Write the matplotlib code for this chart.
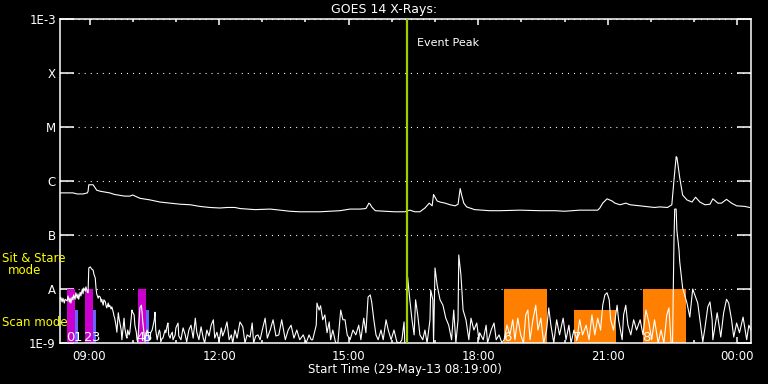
import matplotlib
matplotlib.use("Agg")
import matplotlib.pyplot as plt
import numpy as np

# GOES 14 X-ray flux; time = minutes after 29-May-13 08:19:00, flux = log10(W/m^2)
long_min = [0, 18, 24, 32, 38, 39, 40, 46, 49, 51, 56, 69, 76, 90, 97, 101, 106, 111,
            125, 139, 153, 167, 181, 194, 208, 222, 233, 243, 250, 271, 292, 306, 319,
            333, 347, 361, 375, 389, 403, 417, 425, 428, 429, 431, 433, 438, 451, 465,
            479, 486, 493, 500, 507, 513, 517, 519, 524, 528, 535, 542, 549, 553, 556,
            558, 561, 565, 576, 597, 611, 639, 667, 688, 701, 722, 747, 750, 754, 760,
            767, 771, 778, 786, 792, 806, 819, 826, 833, 844, 850, 853, 856, 857, 858,
            861, 865, 871, 878, 883, 889, 896, 903, 907, 914, 919, 926, 933, 940, 951, 958]
long_log = [-6.22, -6.22, -6.24, -6.24, -6.22, -6.19, -6.07, -6.07, -6.13, -6.17, -6.19,
            -6.22, -6.25, -6.28, -6.28, -6.26, -6.29, -6.32, -6.35, -6.39, -6.41, -6.43,
            -6.44, -6.47, -6.49, -6.50, -6.49, -6.49, -6.51, -6.53, -6.52, -6.54, -6.56,
            -6.57, -6.57, -6.57, -6.56, -6.55, -6.52, -6.52, -6.51, -6.44, -6.41, -6.43,
            -6.48, -6.55, -6.56, -6.57, -6.57, -6.54, -6.57, -6.57, -6.50, -6.41, -6.46,
            -6.25, -6.37, -6.39, -6.41, -6.44, -6.46, -6.43, -6.14, -6.26, -6.41, -6.48,
            -6.53, -6.55, -6.55, -6.54, -6.55, -6.55, -6.56, -6.54, -6.54, -6.50, -6.41,
            -6.33, -6.37, -6.41, -6.44, -6.41, -6.44, -6.46, -6.48, -6.49, -6.48, -6.49,
            -6.44, -5.98, -5.55, -5.56, -5.65, -5.94, -6.26, -6.35, -6.39, -6.30, -6.39,
            -6.44, -6.43, -6.33, -6.41, -6.41, -6.34, -6.41, -6.46, -6.47, -6.49]

short_min = [0, 1, 3, 4, 6, 7, 10, 11, 13, 14, 15, 17, 18, 19, 21, 22, 24, 25, 26, 28,
             29, 31, 32, 33, 35, 36, 38, 39, 40, 42, 43, 44, 46, 47, 49, 50, 51, 53, 54,
             56, 57, 58, 60, 61, 63, 64, 65, 67, 68, 69, 71, 72, 74, 75, 76, 78, 79, 81,
             82, 83, 85, 86, 88, 89, 90, 92, 93, 94, 96, 97, 99, 100, 101, 103, 104, 106,
             107, 108, 110, 111, 113, 114, 115, 117, 118, 119, 121, 122, 124, 125, 126,
             128, 129, 131, 132, 133, 135, 136, 138, 139, 140, 142, 143, 146, 147, 149,
             150, 151, 153, 154, 156, 157, 160, 161, 164, 165, 168, 171, 174, 176, 179,
             182, 185, 188, 190, 193, 196, 199, 201, 204, 207, 210, 213, 215, 218, 221,
             224, 226, 229, 232, 235, 238, 240, 243, 246, 250, 254, 257, 260, 264, 267,
             269, 272, 275, 278, 281, 285, 288, 292, 296, 300, 304, 308, 313, 317, 321,
             325, 329, 333, 338, 342, 346, 349, 351, 356, 357, 360, 362, 365, 368, 371,
             374, 376, 379, 383, 386, 390, 393, 396, 399, 403, 407, 411, 415, 418, 422,
             425, 428, 431, 433, 436, 439, 442, 446, 449, 453, 456, 460, 464, 468, 472,
             475, 478, 479, 482, 483, 486, 489, 492, 494, 497, 500, 504, 507, 510, 514,
             515, 518, 519, 521, 524, 528, 532, 536, 540, 544, 547, 550, 553, 554, 557,
             560, 564, 568, 571, 575, 579, 582, 583, 588, 592, 594, 599, 603, 606, 610,
             614, 617, 621, 625, 629, 632, 636, 640, 644, 647, 650, 653, 657, 661, 664,
             668, 672, 676, 679, 682, 686, 690, 694, 699, 703, 707, 710, 714, 718, 722,
             726, 731, 735, 739, 743, 747, 751, 754, 757, 760, 763, 765, 769, 774, 776,
             781, 783, 786, 789, 793, 797, 801, 806, 810, 814, 818, 822, 826, 831, 835,
             839, 843, 846, 849, 851, 853, 854, 856, 857, 860, 861, 865, 871, 875, 879,
             883, 886, 889, 893, 896, 900, 903, 906, 907, 913, 918, 922, 926, 929, 933,
             936, 940, 944, 949, 954, 957, 960]
short_log = [-8.20, -8.15, -8.24, -8.17, -8.26, -8.19, -8.22, -8.13, -8.24, -8.17, -8.26,
             -8.15, -8.20, -8.11, -8.19, -8.07, -8.17, -8.09, -8.19, -8.06, -8.13, -8.00,
             -8.09, -7.98, -8.04, -7.96, -8.06, -8.07, -7.61, -7.59, -7.61, -7.63, -7.65,
             -7.72, -7.80, -7.98, -8.09, -8.17, -8.13, -8.15, -8.24, -8.19, -8.30, -8.20,
             -8.24, -8.31, -8.35, -8.26, -8.33, -8.30, -8.37, -8.33, -8.43, -8.50, -8.54,
             -8.69, -8.80, -8.44, -8.54, -8.61, -8.76, -8.94, -8.67, -8.54, -8.72, -8.87,
             -8.91, -8.76, -8.85, -8.80, -8.54, -8.39, -8.43, -8.48, -8.67, -8.80, -8.94,
             -8.98, -8.57, -8.35, -8.30, -8.43, -8.61, -8.85, -8.98, -8.87, -8.76, -8.80,
             -8.94, -8.91, -8.81, -8.76, -8.70, -8.57, -8.43, -8.76, -8.94, -8.87, -8.76,
             -8.80, -8.98, -8.91, -8.91, -8.76, -8.81, -8.67, -8.63, -8.85, -8.91, -8.85,
             -8.80, -8.94, -8.85, -8.72, -8.63, -8.87, -8.94, -8.72, -8.85, -8.98, -8.76,
             -8.67, -8.91, -8.54, -8.80, -8.94, -8.70, -8.91, -9.00, -8.76, -8.87, -8.67,
             -8.57, -8.91, -8.80, -8.98, -8.72, -8.87, -8.76, -8.61, -8.94, -8.85, -9.00,
             -8.76, -8.91, -8.61, -8.70, -9.00, -8.85, -8.89, -8.63, -9.00, -8.87, -8.85,
             -8.94, -8.76, -8.54, -8.91, -8.76, -8.57, -8.87, -8.85, -8.57, -8.94, -8.76,
             -8.67, -8.91, -8.76, -8.94, -8.85, -9.00, -8.85, -8.94, -8.94, -8.67, -8.26,
             -8.39, -8.31, -8.57, -8.48, -8.81, -8.61, -8.94, -8.76, -9.00, -9.00, -8.39,
             -8.57, -8.57, -8.85, -8.94, -8.76, -8.85, -8.67, -8.94, -8.54, -8.81, -8.15,
             -8.11, -8.24, -8.57, -8.85, -8.94, -8.76, -8.94, -8.57, -8.76, -8.94, -8.76,
             -8.98, -9.00, -8.94, -8.61, -9.00, -9.00, -7.78, -8.20, -8.57, -8.85, -8.20,
             -8.48, -8.85, -8.94, -8.76, -9.00, -8.57, -8.02, -8.20, -9.00, -7.61, -7.93,
             -8.20, -8.30, -8.54, -8.67, -8.94, -8.39, -9.00, -8.57, -7.37, -7.74, -8.39,
             -8.57, -8.94, -8.54, -8.76, -8.63, -8.94, -8.81, -8.94, -8.67, -9.00, -8.76,
             -8.63, -8.94, -8.85, -9.00, -8.94, -8.67, -8.85, -8.57, -8.94, -8.54, -8.85,
             -9.00, -8.48, -8.39, -8.94, -8.57, -8.30, -8.76, -8.54, -9.00, -8.76, -8.35,
             -8.67, -9.00, -8.57, -8.85, -8.54, -8.94, -8.67, -9.00, -8.76, -8.94, -8.57,
             -8.85, -8.67, -8.94, -8.48, -8.85, -8.54, -8.76, -8.30, -8.11, -8.07, -8.20,
             -8.57, -8.76, -8.30, -8.57, -8.94, -8.48, -8.30, -8.67, -8.85, -8.57, -8.76,
             -8.57, -8.85, -8.39, -8.61, -8.94, -8.57, -9.00, -8.76, -9.00, -8.48, -8.35,
             -9.00, -9.00, -7.09, -6.52, -6.52, -6.91, -7.28, -7.50, -7.98, -8.26, -8.52,
             -8.00, -8.15, -8.26, -8.57, -8.98, -8.72, -8.33, -8.24, -8.57, -8.94, -8.44,
             -8.89, -8.44, -8.19, -8.26, -8.57, -8.89, -8.63, -8.81, -8.52, -8.94, -8.67,
             -8.76]

# observing windows (minutes after start)
obs_start = [10, 21, 35, 46, 108, 119, 617, 714, 810]
obs_end = [21, 25, 46, 50, 119, 123, 676, 773, 870]
obs_mode = ['stare', 'scan', 'stare', 'scan', 'stare', 'scan', 'stare', 'scan', 'stare']
obs_group = ['a', 'b', 'a', 'b', 'a', 'b', 'c', 'c', 'c']
obs_label = ['0', '1', '2', '3', '4', '5', '6', '7', '8']

event_peak = 482

level_vals = [1e-9, 1e-8, 1e-7, 1e-6, 1e-5, 1e-4, 1e-3]
level_names = ['1E-9', 'A', 'B', 'C', 'M', 'X', '1E-3']
hour_ticks = [41, 101, 161, 221, 281, 341, 401, 461, 521, 581, 641, 701, 761, 821, 881, 941]
time_ticks = [41, 221, 401, 581, 761, 941]
time_labels = ['09:00', '12:00', '15:00', '18:00', '21:00', '00:00']

mode_top = {'stare': 1e-8, 'scan': 4.1e-9}
group_color = {'a': '#cc00cc', 'b': '#6666ff', 'c': '#ff8000'}

plt.rcParams['lines.scale_dashes'] = False
fig = plt.figure(figsize=(7.68, 3.84), dpi=100, facecolor='black')
ax = fig.add_axes([60 / 768, 41 / 384, 691 / 768, 324 / 384])
ax.set_facecolor('black')
ax.set_yscale('log')
ax.set_xlim(0, 960)
ax.set_ylim(1e-9, 1e-3)

for i in range(len(obs_start)):
    top = mode_top[obs_mode[i]]
    ax.bar(obs_start[i], top - 1e-9, bottom=1e-9, width=obs_end[i] - obs_start[i],
           align='edge', color=group_color[obs_group[i]], linewidth=0, zorder=1)

ax.plot(long_min, 10.0 ** np.array(long_log), color='white', lw=0.8, zorder=3)
ax.plot(short_min, 10.0 ** np.array(short_log), color='white', lw=0.8, zorder=3)

for i in range(len(obs_start)):
    ax.text(obs_start[i] + 4, 10 ** -8.97, obs_label[i], color='white', fontsize=9.5,
            ha='center', va='baseline', zorder=4)

ax.axvline(event_peak, color='#9fd000', lw=1.6, zorder=5)
ax.text(event_peak + 14, 0.926, 'Event Peak', color='white', fontsize=8,
        va='center', ha='left', transform=ax.get_xaxis_transform())

ax.set_axisbelow(True)
ax.grid(axis='y', which='major', color='white', lw=0.8, linestyle=(0, (0.75, 3.6)))
ax.set_yticks(level_vals)
ax.set_yticklabels(level_names)
ax.minorticks_off()
ax.set_xticks(time_ticks)
ax.set_xticklabels(time_labels)
ax.set_xticks(hour_ticks, minor=True)

ax.tick_params(axis='y', which='major', direction='in', length=10, width=1.1,
               left=True, right=True, colors='white', labelsize=8.5, pad=3)
ax.tick_params(axis='x', which='major', direction='in', length=4.5, width=1.1,
               top=True, bottom=True, colors='white', labelsize=8.5, pad=5)
ax.tick_params(axis='x', which='minor', direction='in', length=2.3, width=1.1,
               top=True, bottom=True, colors='white')
for s in ax.spines.values():
    s.set_color('white')
    s.set_linewidth(1.1)

fig.text(384 / 768, 1 - 9 / 384, 'GOES 14 X-Rays:', color='white', fontsize=9,
         ha='center', va='center')
fig.text(405 / 768, 1 - 369 / 384, 'Start Time (29-May-13 08:19:00)', color='white',
         fontsize=8.5, ha='center', va='center')
fig.text(2 / 768, 1 - 259 / 384, 'Sit & Stare', color='yellow', fontsize=8.5,
         ha='left', va='center')
fig.text(24.5 / 768, 1 - 271 / 384, 'mode', color='yellow', fontsize=8.5,
         ha='center', va='center')
fig.text(2 / 768, 1 - 323 / 384, 'Scan mode', color='yellow', fontsize=8.5,
         ha='left', va='center')

fig.savefig('out.png', dpi=100, facecolor='black')
